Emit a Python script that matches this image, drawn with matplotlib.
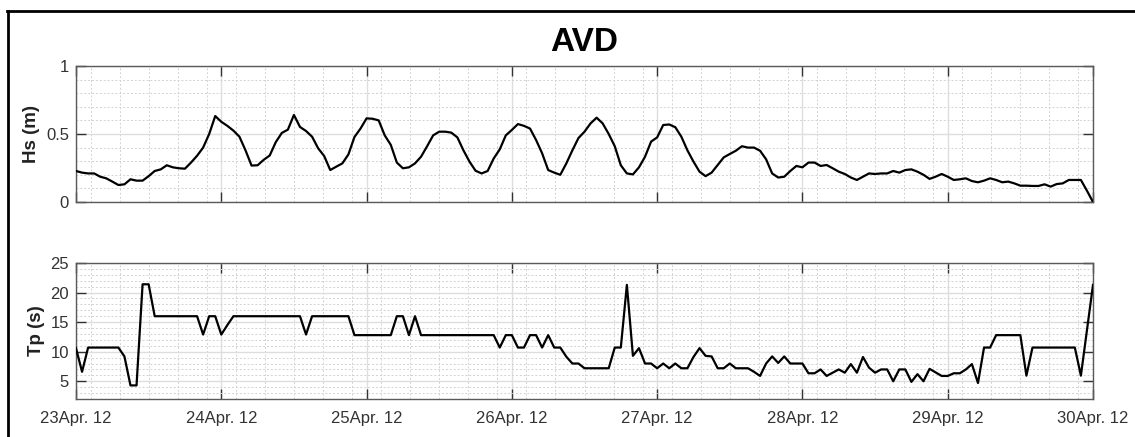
import numpy as np
import pandas as pd
import matplotlib
matplotlib.use("Agg")
import matplotlib.pyplot as plt
import matplotlib.dates as mdates
from matplotlib.lines import Line2D
from matplotlib.ticker import MultipleLocator, FixedLocator, FuncFormatter

plt.rcParams['font.family'] = ['Liberation Sans', 'DejaVu Sans']

# ---- data (hourly, 23 Apr 2012 00:00 -> 30 Apr 2012 00:00) ----
start = "2012-04-23 00:00"
times = pd.date_range(start, periods=169, freq="h")

hs = [
    0.228, 0.216, 0.210, 0.210, 0.186, 0.174, 0.150, 0.125, 0.130, 0.167, 0.157, 0.157,
    0.190, 0.228, 0.240, 0.270, 0.255, 0.248, 0.245, 0.290, 0.340, 0.400, 0.500, 0.632,
    0.590, 0.560, 0.525, 0.480, 0.380, 0.268, 0.270, 0.310, 0.342, 0.440, 0.508, 0.532,
    0.640, 0.552, 0.522, 0.480, 0.395, 0.338, 0.235, 0.260, 0.284, 0.350, 0.478, 0.540,
    0.615, 0.612, 0.600, 0.490, 0.420, 0.290, 0.248, 0.255, 0.284, 0.333, 0.410, 0.490,
    0.517, 0.517, 0.510, 0.475, 0.380, 0.297, 0.230, 0.210, 0.228, 0.320, 0.387, 0.490,
    0.530, 0.573, 0.560, 0.540, 0.456, 0.358, 0.235, 0.216, 0.200, 0.284, 0.380, 0.470,
    0.517, 0.578, 0.620, 0.578, 0.500, 0.410, 0.270, 0.210, 0.203, 0.255, 0.333, 0.444,
    0.475, 0.566, 0.570, 0.550, 0.480, 0.380, 0.297, 0.223, 0.190, 0.216, 0.272, 0.328,
    0.353, 0.377, 0.410, 0.400, 0.400, 0.377, 0.314, 0.210, 0.180, 0.186, 0.228, 0.265,
    0.255, 0.290, 0.290, 0.265, 0.272, 0.248, 0.223, 0.206, 0.180, 0.162, 0.186, 0.210,
    0.206, 0.210, 0.210, 0.228, 0.216, 0.235, 0.240, 0.223, 0.200, 0.170, 0.186, 0.206,
    0.186, 0.162, 0.167, 0.174, 0.154, 0.145, 0.157, 0.174, 0.162, 0.145, 0.150, 0.137,
    0.120, 0.120, 0.118, 0.118, 0.130, 0.113, 0.132, 0.137, 0.162, 0.162, 0.162, 0.083,
    0.000,
]

tp = [
    10.6, 6.6, 10.7, 10.7, 10.7, 10.7, 10.7, 10.7, 9.2, 4.3, 4.3, 21.4,
    21.4, 16.0, 16.0, 16.0, 16.0, 16.0, 16.0, 16.0, 16.0, 12.9, 16.0, 16.0,
    12.9, 14.5, 16.0, 16.0, 16.0, 16.0, 16.0, 16.0, 16.0, 16.0, 16.0, 16.0,
    16.0, 16.0, 12.9, 16.0, 16.0, 16.0, 16.0, 16.0, 16.0, 16.0, 12.8, 12.8,
    12.8, 12.8, 12.8, 12.8, 12.8, 16.0, 16.0, 12.8, 16.0, 12.8, 12.8, 12.8,
    12.8, 12.8, 12.8, 12.8, 12.8, 12.8, 12.8, 12.8, 12.8, 12.8, 10.7, 12.8,
    12.8, 10.7, 10.7, 12.8, 12.8, 10.7, 12.8, 10.7, 10.7, 9.15, 8.0, 8.0,
    7.2, 7.2, 7.2, 7.2, 7.2, 10.7, 10.7, 21.3, 9.3, 10.6, 8.0, 8.0,
    7.2, 8.0, 7.2, 8.0, 7.2, 7.2, 9.1, 10.6, 9.3, 9.2, 7.2, 7.2,
    8.0, 7.2, 7.2, 7.2, 6.6, 5.9, 8.0, 9.2, 8.1, 9.2, 8.0, 8.0,
    8.0, 6.35, 6.35, 7.0, 5.9, 6.45, 7.0, 6.45, 7.9, 6.45, 9.1, 7.3,
    6.45, 7.0, 7.0, 5.0, 7.0, 7.0, 4.9, 6.2, 5.0, 7.1, 6.5, 5.9,
    5.9, 6.35, 6.35, 7.0, 7.9, 4.7, 10.7, 10.7, 12.8, 12.8, 12.8, 12.8,
    12.8, 5.95, 10.7, 10.7, 10.7, 10.7, 10.7, 10.7, 10.7, 10.7, 5.95, 13.6,
    21.3,
]

title = "AVD"
hs_label = "Hs (m)"
tp_label = "Tp (s)"

# ---- figure ----
W, H = 1135, 437
fig = plt.figure(figsize=(W / 100, H / 100), dpi=100)

def fx(px):
    return px / W

def fy(py):
    return 1 - py / H

ax1 = fig.add_axes([fx(76), fy(202), fx(1093) - fx(76), fy(66) - fy(202)])
ax2 = fig.add_axes([fx(76), fy(399), fx(1093) - fx(76), fy(263) - fy(399)])

x0 = mdates.date2num(pd.Timestamp(start))
xmin, xmax = x0, x0 + 7
minor_pos = x0 + np.arange(0.1, 7.0, 0.2)

axis_col = '#5a5a5a'
tick_col = '#333333'

for ax, y, ylim, ymaj, ymin, lab in [
    (ax1, hs, (0, 1), 0.5, 0.1, hs_label),
    (ax2, tp, (2, 25), 5, 1, tp_label),
]:
    ax.plot(times, y, color='black', lw=1.6, solid_joinstyle='round', zorder=3)
    ax.set_xlim(xmin, xmax)
    ax.set_ylim(*ylim)
    ax.xaxis.set_major_locator(mdates.DayLocator())
    ax.xaxis.set_minor_locator(FixedLocator(minor_pos))
    ax.xaxis.set_major_formatter(mdates.DateFormatter('%dApr. %y'))
    ax.yaxis.set_major_locator(MultipleLocator(ymaj))
    ax.yaxis.set_minor_locator(MultipleLocator(ymin))
    ax.yaxis.set_major_formatter(FuncFormatter(lambda v, p: f"{v:g}"))
    ax.grid(which='major', color='#dedede', lw=1.0, ls='-', zorder=0)
    ax.grid(which='minor', color='#d2d2d2', lw=0.7, ls=(0, (2, 2)), zorder=0)
    ax.set_axisbelow(True)
    ax.tick_params(which='major', direction='in', length=7, width=1.0,
                   color=tick_col, top=True, right=True,
                   labelsize=12, labelcolor='#333333')
    ax.tick_params(which='minor', length=0, top=True, right=True)
    ax.tick_params(axis='y', pad=5)
    ax.tick_params(axis='x', pad=9)
    for s in ax.spines.values():
        s.set_color(axis_col)
        s.set_linewidth(1.0)
    ax.set_ylabel(lab, fontsize=13.5, fontweight='bold', color='#222222', labelpad=4)

ax1.tick_params(axis='x', labelbottom=False)
ax1.set_title(title, fontsize=24, fontweight='bold', pad=11)

# figure frame (left and top edges visible)
fig.add_artist(Line2D([fx(7.5), fx(7.5)], [fy(11), 0], color='black', lw=2.0,
                      transform=fig.transFigure))
fig.add_artist(Line2D([fx(6.5), 1], [fy(11), fy(11)], color='black', lw=2.0,
                      transform=fig.transFigure))

fig.savefig("out.png", dpi=100)
